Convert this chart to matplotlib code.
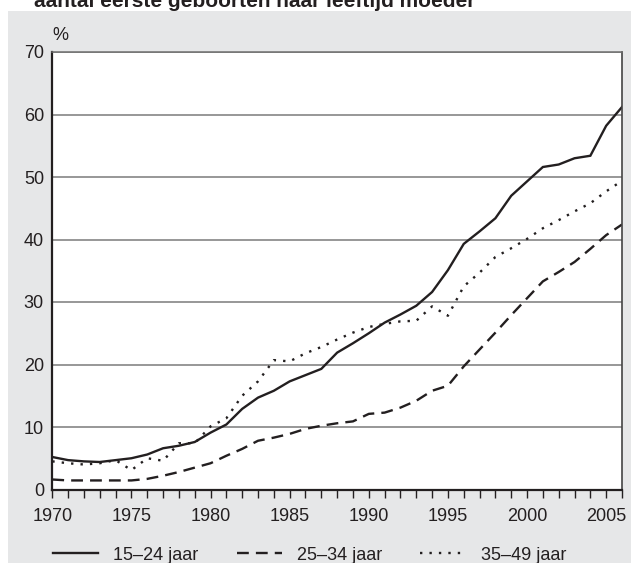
import numpy as np
import matplotlib
matplotlib.use("Agg")
import matplotlib.pyplot as plt
from matplotlib.lines import Line2D
from matplotlib.patches import Rectangle
from matplotlib.ticker import MultipleLocator

plt.rcParams["font.family"] = ["Liberation Sans", "DejaVu Sans"]

title = "aantal eerste geboorten naar leeftijd moeder"
years = np.arange(1970, 2007)

# aandeel (%) per leeftijdsgroep moeder
age_15_24 = [5.2, 4.7, 4.5, 4.4, 4.7, 5.0, 5.6, 6.6, 7.0, 7.6,
             9.1, 10.4, 12.9, 14.7, 15.8, 17.3, 18.3, 19.3, 21.9, 23.4,
             25.0, 26.7, 28.0, 29.4, 31.6, 35.1, 39.3, 41.3, 43.4, 47.0,
             49.3, 51.6, 52.0, 53.0, 53.4, 58.2, 61.2]
age_25_34 = [1.6, 1.45, 1.45, 1.45, 1.45, 1.45, 1.7, 2.2, 2.8, 3.5,
             4.2, 5.4, 6.5, 7.8, 8.3, 8.9, 9.7, 10.2, 10.6, 10.9,
             12.1, 12.3, 13.1, 14.2, 15.8, 16.6, 19.7, 22.4, 25.1, 27.9,
             30.6, 33.3, 34.8, 36.4, 38.5, 40.7, 42.4]
age_35_49 = [4.5, 4.2, 4.0, 4.2, 4.7, 3.1, 5.0, 4.6, 7.4, 7.4,
             10.1, 11.4, 15.0, 17.3, 20.7, 20.5, 21.8, 22.8, 24.0, 25.1,
             26.0, 26.5, 26.9, 27.0, 29.3, 27.8, 32.5, 34.7, 37.2, 38.6,
             40.1, 41.8, 43.1, 44.5, 45.8, 47.7, 49.4]
labels = ["15\u201324 jaar", "25\u201334 jaar", "35\u201349 jaar"]

ink = "#231f20"
bg = "#e6e7e8"
W, H = 631, 563
fs = 13

fig = plt.figure(figsize=(W / 100, H / 100), dpi=100)
fig.patch.set_facecolor("white")
fig.patches.append(Rectangle((8 / W, 0), 1 - 8 / W, 1 - 11 / H,
                             transform=fig.transFigure, facecolor=bg,
                             edgecolor="none", zorder=-10))

ax = fig.add_axes([52.3 / W, 1 - 489.5 / H, (622 - 52.3) / W, (489.5 - 52) / H])
ax.set_facecolor("white")

dash = (0, (5, 3))
dot = (0, (1, 3))
ax.plot(years, age_15_24, color=ink, lw=1.7, solid_joinstyle="miter")
ax.plot(years, age_25_34, color=ink, lw=1.7, linestyle=dash)
ax.plot(years, age_35_49, color=ink, lw=1.7, linestyle=dot)

ax.set_xlim(1970, 2006)
ax.set_ylim(0, 70)
ax.set_yticks(range(0, 71, 10))
ax.xaxis.set_major_locator(MultipleLocator(5))
ax.xaxis.set_minor_locator(MultipleLocator(1))
ax.grid(axis="y", color="#7a7a7a", lw=1.1)
ax.set_axisbelow(True)

ax.tick_params(axis="y", length=0, pad=6, labelsize=fs, labelcolor=ink)
ax.tick_params(axis="x", which="both", direction="out", length=6, width=1,
               color=ink, pad=7, labelsize=fs, labelcolor=ink)

for side in ["left", "bottom"]:
    ax.spines[side].set_color(ink)
    ax.spines[side].set_linewidth(1.6)
ax.spines["top"].set_color("#6e6e6e")
ax.spines["top"].set_linewidth(1.1)
ax.spines["right"].set_color("#444444")
ax.spines["right"].set_linewidth(1.2)

fig.text(34 / W, 1 - 7 / H, title, fontsize=15, fontweight="bold",
         color=ink, ha="left", va="baseline")
fig.text(60 / W, 1 - 35 / H, "%", fontsize=fs, color=ink,
         ha="center", va="center")

handles = [Line2D([], [], color=ink, lw=1.7),
           Line2D([], [], color=ink, lw=1.7, linestyle=dash),
           Line2D([], [], color=ink, lw=1.7, linestyle=dot)]
fig.legend(handles, labels, loc="center left", bbox_to_anchor=(53 / W, 8 / H),
           ncol=3, frameon=False, fontsize=fs, handlelength=2.5,
           handletextpad=0.85, columnspacing=2.1, borderpad=0, borderaxespad=0,
           labelcolor=ink)

fig.savefig("out.png", dpi=100, facecolor=fig.get_facecolor())
